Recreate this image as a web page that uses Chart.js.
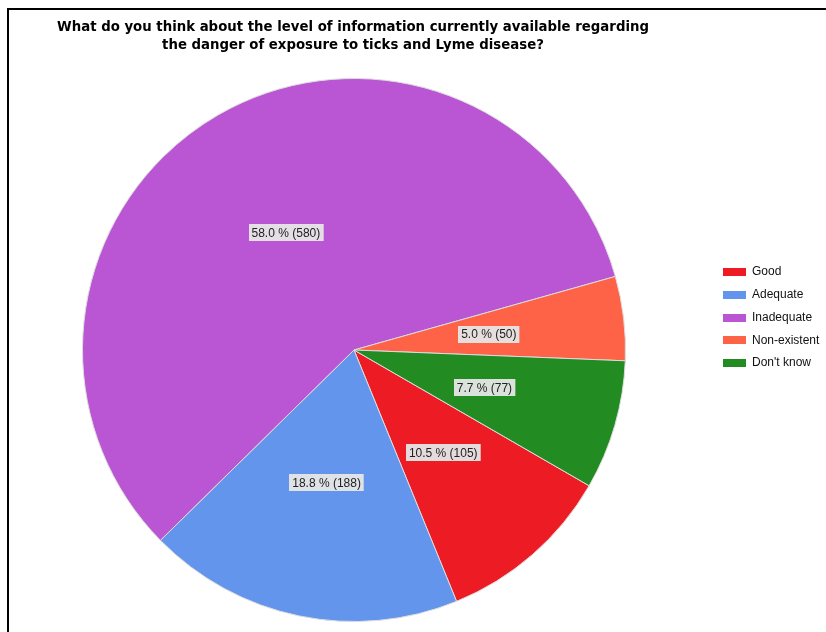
<!DOCTYPE html>
<html>
<head>
<meta charset="utf-8">
<script src="https://cdn.jsdelivr.net/npm/chart.js@4.4.1/dist/chart.umd.min.js"></script>
<style>
  html, body { margin: 0; padding: 0; background: #fff; }
  #wrap { position: relative; width: 826px; height: 632px; }
</style>
</head>
<body>
<div id="wrap"><canvas id="pie" width="826" height="632"></canvas></div>
<script>
var categories = ['Good', 'Adequate', 'Inadequate', 'Non-existent', "Don't know"];
var counts = [105, 188, 580, 50, 77];
var sliceColors = ['#ED1C24', '#6495ED', '#BA55D3', '#FF6347', '#228B22'];
var titleLines = [
    'What do you think about the level of information currently available regarding',
    'the danger of exposure to ticks and Lyme disease?'
];

// white background and black frame along the top and left edge
var framePlugin = {
    id: 'frame',
    beforeDraw: function (chart) {
        var ctx = chart.ctx;
        ctx.save();
        ctx.fillStyle = '#fff';
        ctx.fillRect(0, 0, chart.width, chart.height);
        ctx.fillStyle = '#000';
        ctx.fillRect(7, 8, chart.width, 2);
        ctx.fillRect(7, 8, 2, chart.height);
        ctx.restore();
    }
};

// two-line title, wider than the pie area so drawn without maxWidth squeezing
var titlePlugin = {
    id: 'wideTitle',
    afterDraw: function (chart) {
        var ctx = chart.ctx;
        ctx.save();
        ctx.font = 'bold 13.3px "DejaVu Sans", Verdana, sans-serif';
        ctx.fillStyle = '#000';
        ctx.textAlign = 'center';
        ctx.textBaseline = 'middle';
        titleLines.forEach(function (line, i) {
            ctx.fillText(line, 353, 28 + i * 18);
        });
        ctx.restore();
    }
};

// percentage + count labels in grey boxes at half radius
var sliceLabels = {
    id: 'sliceLabels',
    afterDatasetsDraw: function (chart) {
        var ctx = chart.ctx;
        var data = chart.data.datasets[0].data;
        var total = data.reduce(function (a, b) { return a + b; }, 0);
        var arcs = chart.getDatasetMeta(0).data;
        ctx.save();
        ctx.font = '12px "Liberation Sans", Arial, sans-serif';
        ctx.textAlign = 'center';
        ctx.textBaseline = 'middle';
        arcs.forEach(function (arc, i) {
            var p = arc.tooltipPosition();
            var txt = (data[i] / total * 100).toFixed(1) + ' % (' + data[i] + ')';
            var w = ctx.measureText(txt).width + 6;
            var h = 17;
            var x = Math.round(p.x - w / 2), y = Math.round(p.y - h / 2);
            ctx.fillStyle = 'rgba(230,230,230,0.95)';
            ctx.fillRect(x, y, w, h);
            ctx.fillStyle = '#222';
            ctx.fillText(txt, p.x, p.y + 1);
        });
        ctx.restore();
    }
};

// legend block on the right
var sideLegend = {
    id: 'sideLegend',
    afterDraw: function (chart) {
        var ctx = chart.ctx;
        ctx.save();
        ctx.font = '12px "Liberation Sans", Arial, sans-serif';
        ctx.textBaseline = 'middle';
        chart.data.labels.forEach(function (label, i) {
            var y = 272 + i * 22.75;
            ctx.fillStyle = sliceColors[i];
            ctx.fillRect(723, Math.round(y - 4), 23, 8);
            ctx.fillStyle = '#111';
            ctx.fillText(label, 752, y);
        });
        ctx.restore();
    }
};

new Chart(document.getElementById('pie'), {
    type: 'pie',
    data: {
        labels: categories,
        datasets: [{
            data: counts,
            backgroundColor: sliceColors,
            borderColor: '#dcdcdc',
            borderWidth: 1,
            hoverOffset: 0
        }]
    },
    options: {
        responsive: false,
        animation: false,
        rotation: 120,
        layout: { padding: { left: 82, right: 200, top: 78, bottom: 10 } },
        plugins: {
            legend: { display: false },
            tooltip: { enabled: false },
            title: { display: false }
        }
    },
    plugins: [framePlugin, titlePlugin, sliceLabels, sideLegend]
});
</script>
</body>
</html>
